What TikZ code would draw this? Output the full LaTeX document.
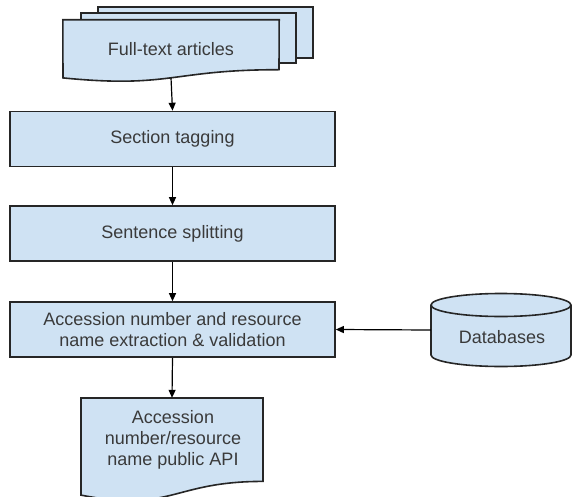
\documentclass[tikz,border=0pt]{standalone}
\usepackage{fontspec}
\setmainfont{Liberation Sans}
\usetikzlibrary{arrows.meta}
\definecolor{boxfill}{HTML}{CFE2F3}
\definecolor{boxline}{HTML}{262626}
\definecolor{textcol}{HTML}{3A3A3A}
\tikzset{
  stepbox/.style={draw=boxline, fill=boxfill, line width=1.6pt, inner sep=0pt,
    minimum width=325pt, minimum height=55pt, text=textcol, align=center,
    font=\fontsize{18}{21}\selectfont},
  shapeline/.style={draw=boxline, fill=boxfill, line width=1.6pt},
  frame/.style={inner sep=0pt, text=textcol, align=center,
    font=\fontsize{18}{21}\selectfont},
  flow/.style={draw=black, line width=1.2pt, -{Triangle[length=8pt,width=7pt]}}
}
\begin{document}
\begin{tikzpicture}[x=1pt,y=-1pt]
\useasboundingbox (0,0) rectangle (572,497);

% stacked documents: two sheets behind the front one
\draw[shapeline] (98,7) rectangle (313,58);
\draw[shapeline] (81,13) rectangle (296,63);
\node[frame, minimum width=216pt, minimum height=62pt] (ft) at (171,51) {};
\draw[shapeline] (ft.north west) -- (ft.north east) -- (279,69.7)
  .. controls (171,69.7) and (171,88.6) .. (63,77.9) coordinate[pos=0.5] (ftb)
  -- cycle;
\node[frame] at (171,49) {Full-text articles};

% processing steps
\node[stepbox] (sec) at (172.5,139) {Section tagging};
\node[stepbox] (sen) at (172.5,233.5) {Sentence splitting};
\node[stepbox] (acc) at (172.5,329.5) {Accession number and resource\\name extraction \& validation};

% database cylinder (arc radii are page lengths: angle 270 is the lower side)
\node[frame, minimum width=140pt, minimum height=50pt] (db) at (501,330) {};
\draw[shapeline] (431,305) -- (431,355)
  arc[start angle=180, end angle=360, x radius=70pt, y radius=11.5pt]
  -- (571,305)
  arc[start angle=0, end angle=180, x radius=70pt, y radius=11.5pt] -- cycle;
\draw[boxline, line width=1.6pt] (431,305)
  arc[start angle=180, end angle=360, x radius=70pt, y radius=11.5pt];
\node[frame] at (502,337) {Databases};

% output document
\node[frame, minimum width=182pt, minimum height=84pt] (api) at (172,440) {};
\draw[shapeline] (81,398) -- (263,398) -- (263,481.4)
  .. controls (172,481.4) and (172,513) .. (81,495.1) -- cycle;
\node[frame] at (173,440) {Accession\\number/resource\\name public API};

% connectors
\draw[flow] (ftb) -- (sec.north);
\draw[flow] (sec) -- (sen);
\draw[flow] (sen) -- (acc);
\draw[flow] (db.west) -- (acc.east);
\draw[flow] (acc.south) -- (api.north);
\end{tikzpicture}
\end{document}
